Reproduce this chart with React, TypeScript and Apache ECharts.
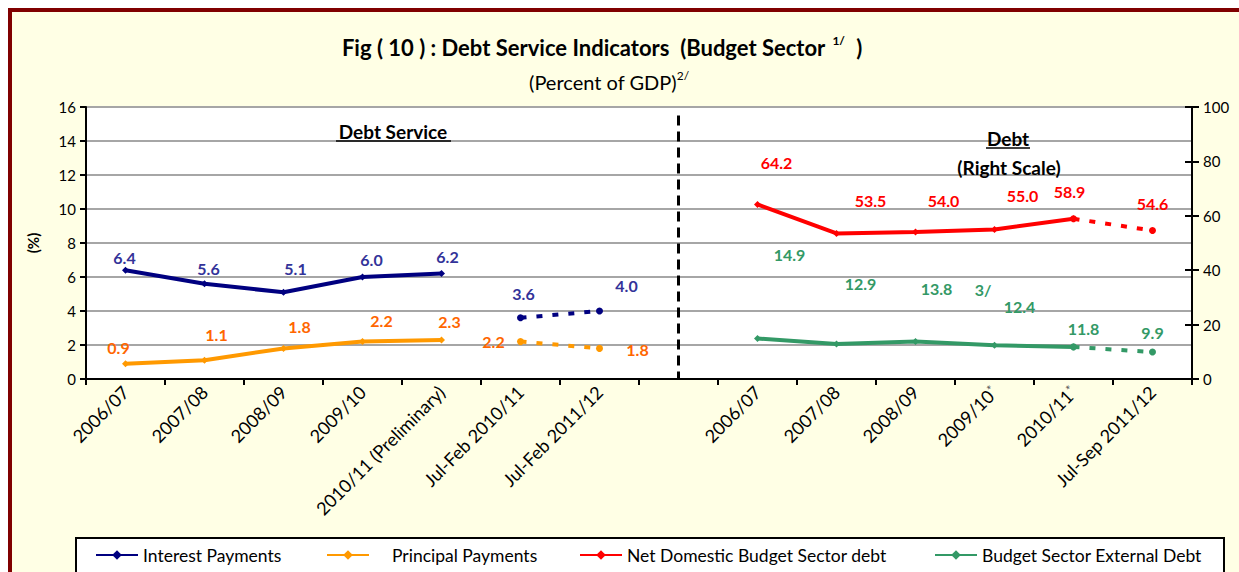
import React, { useEffect, useRef } from "react";
import * as echarts from "echarts";

// ---------- data ----------
const categories = [
  "2006/07",
  "2007/08",
  "2008/09",
  "2009/10",
  "2010/11 (Preliminary)",
  "Jul-Feb 2010/11",
  "Jul-Feb 2011/12",
  " ",
  "2006/07",
  "2007/08",
  "2008/09",
  "2009/10*",
  "2010/11*",
  "Jul-Sep 2011/12",
];

const interestPayments = [6.4, 5.6, 5.1, 6.0, 6.2]; // categories 0-4
const interestPaymentsJulFeb = [3.6, 4.0]; // categories 5-6
const principalPayments = [0.9, 1.1, 1.8, 2.2, 2.3]; // categories 0-4
const principalPaymentsJulFeb = [2.2, 1.8]; // categories 5-6
const netDomesticDebt = [64.2, 53.5, 54.0, 55.0, 58.9]; // categories 8-12
const netDomesticDebtJulSep = [54.6]; // category 13
const externalDebt = [14.9, 12.9, 13.8, 12.4, 11.8]; // categories 8-12
const externalDebtJulSep = [9.9]; // category 13

const leftTicks = { min: 0, max: 16, interval: 2 };
const rightTicks = { min: 0, max: 100, interval: 20 };

// ---------- layout (label offsets, px) ----------
const interestOffsets = [[-1, -13], [4, -15], [12, -24], [9, -18], [6, -17]];
const interestJulFebOffsets = [[3, -24], [27, -26]];
const principalOffsets = [[-7, -16], [12, -26], [16, -22], [19, -21], [8, -18]];
const principalJulFebOffsets = [[-27, 0], [38, 1]];
const domesticOffsets = [[19, -42], [34, -33], [28, -32], [28, -34], [-4, -27]];
const domesticJulSepOffsets = [[0, -27]];
const externalOffsets = [[32, -84], [24, -60], [21, -53], [25, -39], [10, -18]];
const externalJulSepOffsets = [[0, -20]];

const FONT = 'Lato, "Open Sans", sans-serif';

function place(values: number[], start: number, offsets: number[][] | null, color: string, prefix?: number) {
  const arr: any[] = categories.map(() => "-");
  if (prefix !== undefined) {
    arr[start - 1] = { value: prefix, label: { show: false } };
  }
  values.forEach((v, i) => {
    arr[start + i] = {
      value: v,
      label: offsets
        ? {
            show: true,
            position: "inside",
            offset: offsets[i],
            color,
            fontSize: 16,
            fontWeight: "bold",
            fontFamily: FONT,
            formatter: (p: any) => Number(p.value).toFixed(1),
          }
        : { show: false },
    };
  });
  return arr;
}

export default function App() {
  const ref = useRef<HTMLDivElement>(null);

  useEffect(() => {
    if (!ref.current) return;
    const chart = echarts.init(ref.current, undefined, { renderer: "svg" });

    const solid = (name: string, color: string, data: any[], yAxisIndex: number, extra: any = {}) => ({
      type: "line",
      name,
      yAxisIndex,
      data,
      connectNulls: false,
      symbol: "diamond",
      symbolSize: 7,
      itemStyle: { color },
      lineStyle: { color, width: 4 },
      z: 3,
      ...extra,
    });
    const dashed = (name: string, color: string, data: any[], yAxisIndex: number) => ({
      type: "line",
      name,
      yAxisIndex,
      data,
      symbol: "circle",
      symbolSize: 7,
      itemStyle: { color },
      lineStyle: { color, width: 4, type: [6, 10] },
      z: 3,
    });

    const option: any = {
      animation: false,
      backgroundColor: "#ffffff",
      textStyle: { fontFamily: FONT },
      grid: {
        left: 86,
        right: 47,
        top: 107,
        bottom: 193,
        show: true,
        backgroundColor: "#ffffff",
        borderWidth: 0,
      },
      legend: [
        { name: "Interest Payments", left: 95 },
        { name: "Principal Payments", left: 326, pad: 18 },
        { name: "Net Domestic Budget Sector debt", left: 579 },
        { name: "Budget Sector External Debt", left: 934 },
      ].map((l) => ({
        data: [l.name],
        left: l.left,
        top: 546,
        padding: 0,
        itemWidth: 42,
        itemHeight: 12,
        itemGap: 0,
        textStyle: {
          fontSize: 17.5,
          color: "#000",
          fontFamily: FONT,
          padding: [0, 0, 0, (l as any).pad || 0],
        },
        z: 6,
      })),
      xAxis: {
        type: "category",
        data: categories,
        boundaryGap: true,
        axisLine: { lineStyle: { color: "#000", width: 2 } },
        axisTick: { show: true, length: 6, lineStyle: { color: "#000", width: 2 } },
        axisLabel: {
          interval: 0,
          rotate: 45,
          fontSize: 18,
          color: "#000",
          margin: 10,
          fontFamily: FONT,
          formatter: (v: string) => v.replace("*", "{s|*}"),
          rich: { s: { fontSize: 13, verticalAlign: "top", color: "#555", fontFamily: FONT } },
        },
        splitLine: { show: false },
      },
      yAxis: [
        {
          type: "value",
          position: "left",
          min: leftTicks.min,
          max: leftTicks.max,
          interval: leftTicks.interval,
          name: "(%)",
          nameLocation: "middle",
          nameGap: 46,
          nameTextStyle: { fontSize: 15, fontWeight: "bold", color: "#000", fontFamily: FONT },
          axisLine: { show: true, lineStyle: { color: "#000", width: 2 } },
          axisTick: { show: true, length: 6, lineStyle: { color: "#000", width: 2 } },
          axisLabel: { fontSize: 15, color: "#000", margin: 10, fontFamily: FONT },
          splitLine: { show: true, lineStyle: { color: "#a6a6a6", width: 2 } },
        },
        {
          type: "value",
          position: "right",
          min: rightTicks.min,
          max: rightTicks.max,
          interval: rightTicks.interval,
          axisLine: { show: true, lineStyle: { color: "#000", width: 2 } },
          axisTick: { show: true, length: 7, lineStyle: { color: "#000", width: 2 } },
          axisLabel: { fontSize: 15, color: "#000", margin: 11, fontFamily: FONT },
          splitLine: { show: false },
        },
        {
          type: "value",
          position: "right",
          min: rightTicks.min,
          max: rightTicks.max,
          interval: rightTicks.interval,
          axisLine: { show: false },
          axisTick: { show: true, inside: true, length: 7, lineStyle: { color: "#000", width: 2 } },
          axisLabel: { show: false },
          splitLine: { show: false },
        },
      ],
      series: [
        solid("Interest Payments", "#000080", place(interestPayments, 0, interestOffsets, "#333399"), 0, {
          markLine: {
            silent: true,
            symbol: "none",
            label: { show: false },
            lineStyle: { color: "#000", width: 3, type: [10, 6] },
            data: [[{ coord: [7, 15.5] }, { coord: [7, 0] }]],
          },
        }),
        dashed("Interest Payments Jul-Feb", "#000080", place(interestPaymentsJulFeb, 5, interestJulFebOffsets, "#333399"), 0),
        solid("Principal Payments", "#FF9900", place(principalPayments, 0, principalOffsets, "#FF6600"), 0),
        dashed("Principal Payments Jul-Feb", "#FF9900", place(principalPaymentsJulFeb, 5, principalJulFebOffsets, "#FF6600"), 0),
        solid("Net Domestic Budget Sector debt", "#FF0000", place(netDomesticDebt, 8, domesticOffsets, "#FF0000"), 1),
        dashed(
          "Net Domestic Jul-Sep",
          "#FF0000",
          place(netDomesticDebtJulSep, 13, domesticJulSepOffsets, "#FF0000", netDomesticDebt[netDomesticDebt.length - 1]),
          1
        ),
        solid("Budget Sector External Debt", "#339966", place(externalDebt, 8, externalOffsets, "#339966"), 1),
        dashed(
          "External Jul-Sep",
          "#339966",
          place(externalDebtJulSep, 13, externalJulSepOffsets, "#339966", externalDebt[externalDebt.length - 1]),
          1
        ),
      ],
      graphic: [
        {
          type: "rect",
          z: -10,
          shape: { x: 10, y: 10, width: 1400, height: 800 },
          style: { fill: "#FFFFE5", stroke: "#800000", lineWidth: 4 },
        },
        {
          type: "rect",
          z: 5,
          shape: { x: 76, y: 538, width: 1148, height: 60 },
          style: { fill: "#ffffff", stroke: "#000000", lineWidth: 2 },
        },
        {
          type: "text",
          z: 10,
          x: 602,
          y: 47,
          style: {
            text: "{b|Fig ( 10 ) : Debt Service Indicators  (Budget Sector }{sup|1/}{b| )}",
            align: "center",
            verticalAlign: "middle",
            rich: {
              b: { fontSize: 22, fontWeight: "bold", fill: "#000", fontFamily: FONT, lineHeight: 26 },
              sup: { fontSize: 12, fontWeight: "bold", fill: "#000", fontFamily: FONT, verticalAlign: "top", lineHeight: 26, padding: [0, 6, 0, 2] },
            },
          },
        },
        {
          type: "text",
          z: 10,
          x: 609,
          y: 82,
          style: {
            text: "{n|(Percent of GDP)}{sup|2/}",
            align: "center",
            verticalAlign: "middle",
            rich: {
              n: { fontSize: 20, fill: "#000", fontFamily: FONT, lineHeight: 26 },
              sup: { fontSize: 12, fill: "#000", fontFamily: FONT, verticalAlign: "top", lineHeight: 26 },
            },
          },
        },
        {
          type: "text",
          z: 10,
          x: 393,
          y: 131,
          style: { text: "Debt Service", align: "center", verticalAlign: "middle", fontSize: 19, fontWeight: "bold", fill: "#000", fontFamily: FONT },
        },
        { type: "line", z: 10, shape: { x1: 336, y1: 141, x2: 451, y2: 141 }, style: { stroke: "#000", lineWidth: 1.5 } },
        {
          type: "text",
          z: 10,
          x: 1008,
          y: 138,
          style: { text: "Debt", align: "center", verticalAlign: "middle", fontSize: 19, fontWeight: "bold", fill: "#000", fontFamily: FONT },
        },
        { type: "line", z: 10, shape: { x1: 986, y1: 148, x2: 1030, y2: 148 }, style: { stroke: "#000", lineWidth: 1.5 } },
        {
          type: "text",
          z: 10,
          x: 1009,
          y: 167,
          style: { text: "(Right Scale)", align: "center", verticalAlign: "middle", fontSize: 19, fontWeight: "bold", fill: "#000", fontFamily: FONT },
        },
        {
          type: "text",
          z: 10,
          x: 983,
          y: 289,
          style: { text: "3/", align: "center", verticalAlign: "middle", fontSize: 16, fontWeight: "bold", fill: "#339966", fontFamily: FONT },
        },
      ],
    };

    chart.setOption(option);
    return () => chart.dispose();
  }, []);

  return (
    <div
      ref={ref}
      style={{ position: "fixed", left: 0, top: 0, width: 1239, height: 572 }}
    />
  );
}
